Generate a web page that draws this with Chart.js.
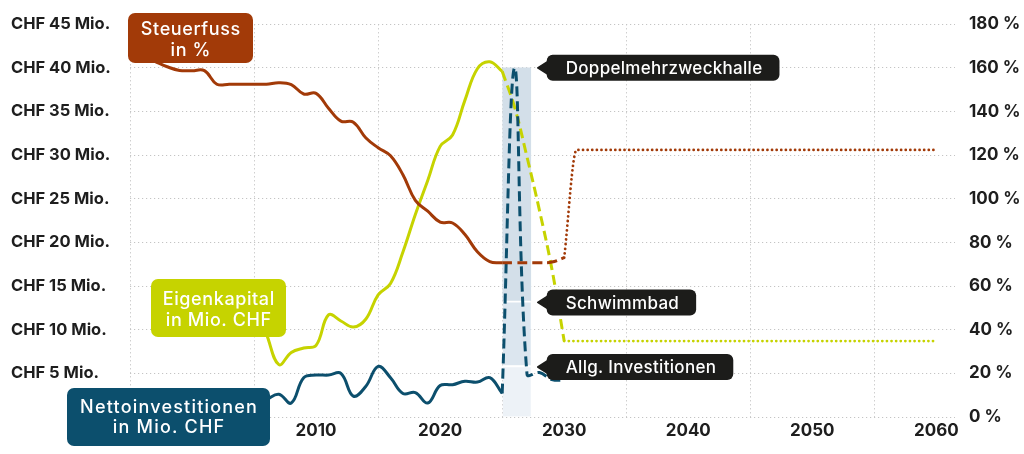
<!DOCTYPE html>
<html><head><meta charset="utf-8">
<script src="https://cdn.jsdelivr.net/npm/chart.js@4.4.1/dist/chart.umd.min.js"></script>
<style>html,body{margin:0;padding:0;background:#fff;}canvas{display:block;}</style>
</head><body>
<canvas id="c" width="1024" height="454"></canvas>
<script>
// ---------- DATA ----------
const xTickYears = [2000, 2010, 2020, 2030, 2040, 2050, 2060];
const leftTicks = [0, 5, 10, 15, 20, 25, 30, 35, 40, 45];
const rightTicks = [0, 20, 40, 60, 80, 100, 120, 140, 160, 180];

// Steuerfuss in % (right axis)
const steuerYears = [1997,1998,1999,2000,2001,2002,2003,2004,2005,2006,2007,2008,2009,2010,2011,2012,2013,2014,2015,2016,2017,2018,2019,2020,2021,2022,2023,2024,2025];
const steuerValues = [163,160.5,158.8,158.7,158.7,152.5,152.5,152.5,152.5,152.5,153.2,152.3,148,148.3,141.5,135.6,135.1,128,123.4,119.7,111,99.3,94.3,89.3,88.9,83.6,75.7,71.2,70.7];
const steuerPlanYears = [2025,2026,2027,2028,2029,2030];
const steuerPlanValues = [70.7,70.7,70.7,70.7,71,73];
const steuerLongYears = [2030,2031,2060];
const steuerLongValues = [73,122.4,122.4];

// Eigenkapital in Mio. CHF (left axis)
const eigenYears = [2006,2007,2008,2009,2010,2011,2012,2013,2014,2015,2016,2017,2018,2019,2020,2021,2022,2023,2024,2025];
const eigenValues = [9.5,6.0,7.4,7.9,8.2,11.7,11.0,10.3,11.2,14.0,15.3,18.9,23.2,27.1,31.0,32.3,36.3,39.9,40.7,39.6];
const eigenPlanYears = [2025,2026,2027,2028,2029,2030];
const eigenPlanValues = [39.6,35.5,29.8,23.7,17.0,8.7];
const eigenLongYears = [2030,2060];
const eigenLongValues = [8.7,8.7];

// Nettoinvestitionen in Mio. CHF (left axis)
const nettoYears = [2006,2007,2008,2009,2010,2011,2012,2013,2014,2015,2016,2017,2018,2019,2020,2021,2022,2023,2024,2025];
const nettoValues = [2.0,2.6,1.6,4.5,4.8,4.8,5.0,2.4,3.5,5.8,4.5,2.7,2.8,1.6,3.6,3.7,4.1,4.0,4.5,2.7];
const nettoPlanYears = [2025,2026,2027,2028,2029,2030];
const nettoPlanValues = [2.7,40,4.9,5.1,4.3,4.2];

// Investment band (stacked), spanning the planning years
const bandFrom = 2025.05;
const bandTo = 2027.3;
const bandLabels = ['Allg. Investitionen', 'Schwimmbad', 'Doppelmehrzweckhalle'];
const bandValues = [5.9, 7.4, 26.7];

// ---------- STYLE ----------
const BROWN = '#a23a08', GREEN = '#c6d300', BLUE = '#0c4f6d', DARK = '#1c1c1a';
const bandColors = ['#edf2f7', '#dce6ef', '#d3dfe9'];
const GRID = '#c4c4c4';
const TICK_FONT = {family: 'Inter', size: 17, weight: '700'};
const LEFT_TICK_FONT = {family: 'Inter', size: 16.5, weight: '700'};

const pts = (xs, ys) => xs.map((x, i) => ({x, y: ys[i]}));

// cumulative band segments
let acc = 0;
const bandSegments = bandValues.map(v => { const s = [acc, acc + v]; acc += v; return s; });

const bandDatasets = bandSegments.map((seg, i) => ({
  type: 'bar', label: bandLabels[i], yAxisID: 'y', order: 10,
  data: [{x: (bandFrom + bandTo) / 2, y: seg}],
  backgroundColor: bandColors[i], borderColor: '#ffffff',
  borderWidth: i < bandSegments.length - 1 ? {top: 2, bottom: 0, left: 0, right: 0} : 0,
  borderSkipped: false, barThickness: 28, grouped: false
}));

const lineBase = {type: 'line', pointRadius: 0, borderWidth: 3, fill: false, tension: 0.4, order: 1};
const dotted = {borderDash: [0.01, 4.6], borderCapStyle: 'round', borderWidth: 2.8, cubicInterpolationMode: 'monotone'};
const dashed = {borderDash: [10, 5]};

const lineDatasets = [
  {...lineBase, label: 'Steuerfuss', yAxisID: 'y2', borderColor: BROWN, data: pts(steuerYears, steuerValues)},
  {...lineBase, ...dashed, label: 'Steuerfuss Plan', yAxisID: 'y2', borderColor: BROWN, data: pts(steuerPlanYears, steuerPlanValues)},
  {...lineBase, ...dotted, label: 'Steuerfuss lang', yAxisID: 'y2', borderColor: BROWN, data: pts(steuerLongYears, steuerLongValues)},
  {...lineBase, label: 'Nettoinvestitionen', yAxisID: 'y', borderColor: BLUE, data: pts(nettoYears, nettoValues)},
  {...lineBase, ...dashed, label: 'Netto Plan', yAxisID: 'y', borderColor: BLUE, data: pts(nettoPlanYears, nettoPlanValues)},
  {...lineBase, label: 'Eigenkapital', yAxisID: 'y', borderColor: GREEN, data: pts(eigenYears, eigenValues)},
  {...lineBase, ...dashed, label: 'Eigen Plan', yAxisID: 'y', borderColor: GREEN, data: pts(eigenPlanYears, eigenPlanValues)},
  {...lineBase, ...dotted, label: 'Eigen lang', yAxisID: 'y', borderColor: GREEN, data: pts(eigenLongYears, eigenLongValues)}
];

const seriesBoxes = [
  {lines: ['Steuerfuss', 'in %'], color: BROWN, x: 128, y: 13, w: 125, h: 50, base: [35, 55.5], ls: 0.6},
  {lines: ['Eigenkapital', 'in Mio. CHF'], color: GREEN, x: 151, y: 279, w: 135, h: 58, base: [305, 326], ls: 0.6},
  {lines: ['Nettoinvestitionen', 'in Mio. CHF'], color: BLUE, x: 67, y: 388, w: 203, h: 58, base: [413.3, 433.3], ls: 1.2}
];

// size the band to its year span using the x scale
const bandWidthPlugin = {
  id: 'bandWidth',
  afterLayout(chart) {
    const xs = chart.scales.x;
    const w = Math.round(xs.getPixelForValue(bandTo) - xs.getPixelForValue(bandFrom));
    let changed = false;
    chart.data.datasets.forEach(d => {
      if (d.type === 'bar' && d.barThickness !== w) { d.barThickness = w; changed = true; }
    });
    if (changed) setTimeout(() => chart.update('none'), 0);
  }
};

const calloutPlugin = {
  id: 'callouts',
  afterDraw(chart) {
    const ctx = chart.ctx;
    ctx.save();
    seriesBoxes.forEach(b => {
      ctx.fillStyle = b.color;
      ctx.beginPath(); ctx.roundRect(b.x, b.y, b.w, b.h, 7); ctx.fill();
      ctx.fillStyle = '#ffffff';
      ctx.font = '500 18px Inter';
      ctx.letterSpacing = b.ls + 'px';
      ctx.textAlign = 'center'; ctx.textBaseline = 'alphabetic';
      b.lines.forEach((t, i) => ctx.fillText(t, b.x + b.w / 2 + b.ls / 2, b.base[i]));
    });
    const ys = chart.scales.y;
    const xs = chart.scales.x;
    const barRight = xs.getPixelForValue(bandTo);
    ctx.font = '500 17px Inter';
    ctx.letterSpacing = '0.3px';
    ctx.textAlign = 'left';
    bandSegments.forEach((seg, i) => {
      const tipY = ys.getPixelForValue(seg[1]) + (i < bandSegments.length - 1 ? 1.5 : 0);
      const tipX = barRight + 7;
      const bx = barRight + 16;
      const tw = ctx.measureText(bandLabels[i]).width;
      const bw = tw + 36;
      const bh = 26;
      ctx.fillStyle = DARK;
      ctx.beginPath(); ctx.roundRect(bx, tipY - bh / 2, bw, bh, 6); ctx.fill();
      ctx.beginPath();
      ctx.moveTo(bx + 2, tipY - 7); ctx.lineTo(tipX, tipY); ctx.lineTo(bx + 2, tipY + 7); ctx.closePath();
      ctx.lineJoin = 'round'; ctx.lineWidth = 1.5; ctx.strokeStyle = DARK; ctx.fill(); ctx.stroke();
      ctx.fillStyle = '#ffffff';
      ctx.fillText(bandLabels[i], bx + 19, tipY + 6.3);
    });
    ctx.restore();
  }
};

new Chart(document.getElementById('c'), {
  data: {datasets: [...bandDatasets, ...lineDatasets]},
  options: {
    responsive: false, animation: false, devicePixelRatio: 1,
    layout: {padding: {top: 20, left: 11, right: 0, bottom: 0}},
    plugins: {legend: {display: false}, tooltip: {enabled: false}},
    scales: {
      x: {
        type: 'linear', min: 1995, max: 2061.5, offset: false,
        afterBuildTicks: s => { s.ticks = xTickYears.map(v => ({value: v})); },
        afterFit: s => { s.height = 37; },
        grid: {color: GRID, lineWidth: 1, drawTicks: false, borderDash: [1.2, 2.8]},
        border: {display: false, dash: [1.2, 2.8]},
        ticks: {font: TICK_FONT, color: '#1e1e1e', padding: 4, maxRotation: 0, callback: v => String(v)}
      },
      y: {
        position: 'left', min: 0, max: 45,
        afterBuildTicks: s => { s.ticks = leftTicks.map(v => ({value: v})); },
        afterFit: s => { s.width = 119; },
        grid: {color: GRID, lineWidth: 1, drawTicks: false, borderDash: [1.2, 2.8]},
        border: {display: false, dash: [1.2, 2.8]},
        ticks: {font: LEFT_TICK_FONT, color: '#1e1e1e', crossAlign: 'far', padding: 0,
          callback: v => v === 0 ? '' : 'CHF ' + v + ' Mio.'}
      },
      y2: {
        position: 'right', min: 0, max: 180,
        afterBuildTicks: s => { s.ticks = rightTicks.map(v => ({value: v})); },
        afterFit: s => { s.width = 69; },
        grid: {display: false, drawTicks: false},
        border: {display: false},
        ticks: {font: TICK_FONT, color: '#1e1e1e', padding: 14, callback: v => v + ' %'}
      }
    }
  },
  plugins: [bandWidthPlugin, calloutPlugin]
});
</script>
</body></html>
